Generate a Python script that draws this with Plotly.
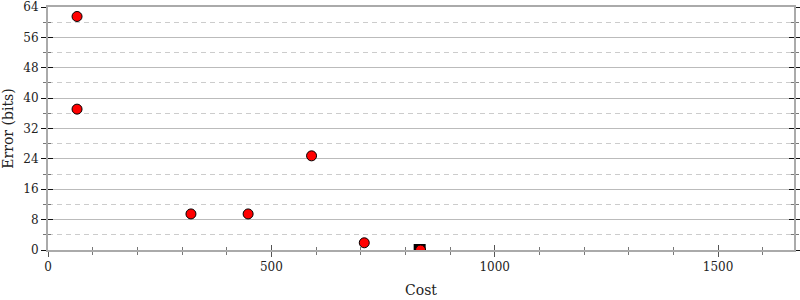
import plotly.graph_objects as go

# data
cost = [65, 65, 320, 448, 590, 708, 834]
error_bits = [61.5, 37.1, 9.5, 9.5, 24.8, 1.9, 0.0]
best_cost = [832]
best_error = [0.0]

FONT = "DejaVu Serif"
fig = go.Figure()
# invisible trace to instantiate overlay axes (inside ticks)
fig.add_trace(go.Scatter(x=[], y=[], xaxis="x2", yaxis="y2", showlegend=False))
fig.add_trace(go.Scatter(x=best_cost, y=best_error, mode="markers",
                         marker=dict(symbol="square", size=12, color="black"),
                         showlegend=False, hoverinfo="skip"))
fig.add_trace(go.Scatter(x=cost, y=error_bits, mode="markers",
                         marker=dict(symbol="circle", size=10, color="#ff0000",
                                     line=dict(color="black", width=1)),
                         showlegend=False))

axcol = "#aaaaaa"
fig.update_layout(
    width=800, height=300,
    margin=dict(l=48, r=6, t=7, b=50),
    plot_bgcolor="white", paper_bgcolor="white",
    font=dict(family=FONT, size=12, color="#222"),
    xaxis=dict(range=[0, 1670], tickvals=[0, 500, 1000, 1500], automargin=False,
               ticks="outside", ticklen=5, tickcolor="#555", tickwidth=1,
               minor=dict(dtick=100, tick0=0, ticks="outside", ticklen=3, tickcolor="#777"),
               showgrid=False, zeroline=False,
               showline=True, linecolor=axcol, linewidth=2, mirror=True,
               title=dict(text="Cost", standoff=12)),
    yaxis=dict(range=[0, 64], tickvals=[0, 8, 16, 24, 32, 40, 48, 56, 64], automargin=False,
               ticks="outside", ticklen=5, tickcolor="#111", tickwidth=1,
               minor=dict(dtick=4, tick0=0, ticks="outside", ticklen=3, tickcolor="#777",
                          showgrid=True, gridcolor="#cccccc", griddash="5px,4px", gridwidth=1),
               showgrid=True, gridcolor="#bbbbbb", gridwidth=1,
               zeroline=False, showline=True, linecolor=axcol, linewidth=2,
               mirror="allticks",
               title=dict(text="Error (bits)", standoff=8)),
    xaxis2=dict(overlaying="x", matches="x", side="bottom", tickvals=[0, 500, 1000, 1500],
                automargin=False,
                ticks="inside", ticklen=5, tickcolor="#555", showticklabels=False,
                minor=dict(dtick=100, tick0=0, ticks="inside", ticklen=3, tickcolor="#777"),
                showgrid=False, zeroline=False, showline=False),
    yaxis2=dict(overlaying="y", matches="y", side="left", automargin=False,
                tickvals=[0, 8, 16, 24, 32, 40, 48, 56, 64],
                ticks="inside", ticklen=5, tickcolor="#111", showticklabels=False,
                minor=dict(dtick=4, tick0=0, ticks="inside", ticklen=3, tickcolor="#777"),
                mirror="allticks", showgrid=False, zeroline=False, showline=False),
)
fig.write_html("out.html")
